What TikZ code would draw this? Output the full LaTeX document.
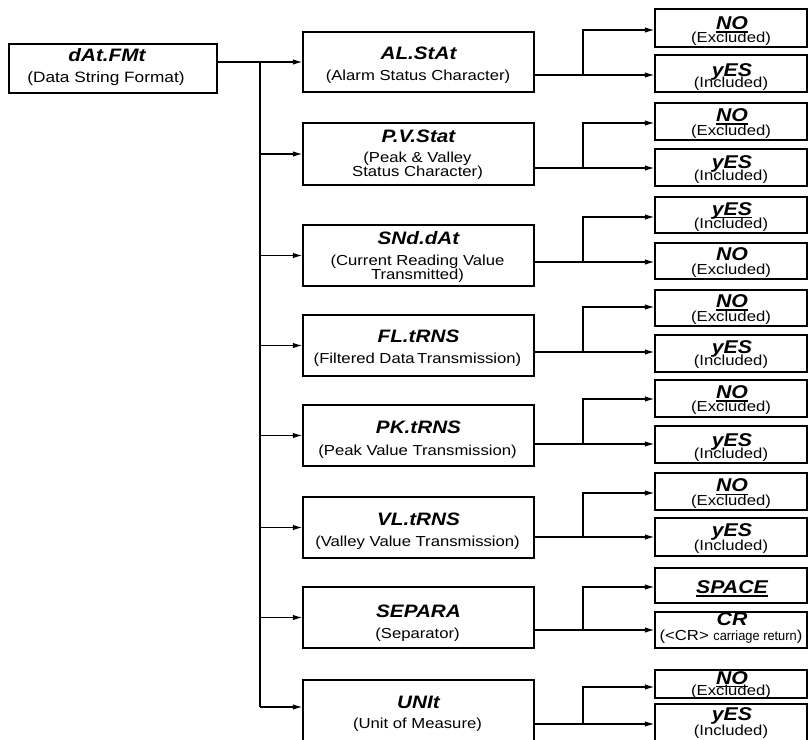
\documentclass[tikz,border=0pt]{standalone}
\usepackage{fontspec}
\setmainfont{Liberation Sans}[FakeStretch=1.15]
\newfontfamily\condfont{Liberation Sans}[FakeStretch=0.95]
\usetikzlibrary{arrows.meta}
\newcommand\myul[1]{\setbox0\hbox{#1}\rlap{\rule[-3.2pt]{\wd0}{1.3pt}}\box0}
\tikzset{
 box/.style={draw=black, line width=1.4pt, inner sep=0pt, fill=white},
 midbox/.style={box, minimum width=231pt},
 optbox/.style={box, minimum width=152pt},
 ttl/.style={inner sep=0pt, anchor=base, font=\fontsize{18}{18}\selectfont\bfseries\itshape},
 otl/.style={inner sep=0pt, anchor=base, font=\fontsize{18.5}{18}\selectfont\bfseries\itshape},
 sub/.style={inner sep=0pt, anchor=base, font=\fontsize{14.5}{14}\selectfont},
 arr/.style={line width=1.2pt, -{Latex[length=9.5pt,width=5.5pt]}},
 ln/.style={line width=1.2pt},
}
\begin{document}
\begin{tikzpicture}[x=1pt,y=-1pt]
\useasboundingbox (0,0) rectangle (808,739);
% root
\node[box, minimum width=208pt, minimum height=49pt] (root) at (113,68.5) {};
\node[ttl] (rootT) at (107,61) {dAt.FMt};
\node[sub, font=\fontsize{15}{15}\selectfont] (rootS) at (106,82) {(Data String Format)};
% middle boxes
\node[midbox, minimum height=60pt] (al) at (418.5,62) {};
\node[ttl] (alT) at (418.5,59.3) {AL.StAt};
\node[sub] (alS) at (418,80.3) {(Alarm Status Character)};
\node[midbox, minimum height=62pt] (pv) at (418.5,154) {};
\node[ttl] (pvT) at (418.5,142.5) {P.V.Stat};
\node[sub] (pvS1) at (417.5,162.7) {(Peak \& Valley};
\node[sub] (pvS2) at (417.5,176.7) {Status Character)};
\node[midbox, minimum height=61pt] (sn) at (418.5,255.5) {};
\node[ttl] (snT) at (418.5,244.3) {SNd.dAt};
\node[sub] (snS1) at (417.5,265) {(Current Reading Value};
\node[sub] (snS2) at (417.5,279) {Transmitted)};
\node[midbox, minimum height=61pt] (fl) at (418.5,345.5) {};
\node[ttl] (flT) at (418.5,342.5) {FL.tRNS};
\node[sub] (flS) at (417.5,363.5) {(Filtered Data\kern2.5pt Transmission)};
\node[midbox, minimum height=61pt] (pk) at (418.5,435.5) {};
\node[ttl] (pkT) at (418.5,433.5) {PK.tRNS};
\node[sub] (pkS) at (417.5,455) {(Peak Value Transmission)};
\node[midbox, minimum height=61pt] (vl) at (418.5,527.5) {};
\node[ttl] (vlT) at (418.5,525) {VL.tRNS};
\node[sub] (vlS) at (417.5,546) {(Valley Value Transmission)};
\node[midbox, minimum height=61pt] (se) at (418.5,617.5) {};
\node[ttl] (seT) at (418.5,617) {SEPARA};
\node[sub] (seS) at (417.5,638.5) {(Separator)};
\node[midbox, minimum height=61pt] (un) at (418.5,710.5) {};
\node[ttl] (unT) at (418.5,708.3) {UNIt};
\node[sub] (unS) at (417.5,728.3) {(Unit of Measure)};
% option boxes
\node[optbox, minimum height=38pt] (n1) at (731,28) {};
\node[otl] (n1T) at (732,29.3) {\myul{NO}};
\node[sub] (n1S) at (731,42.7) {(Excluded)};
\node[optbox, minimum height=37pt] (y1) at (731,73.5) {};
\node[otl] (y1T) at (732,76.5) {yES};
\node[sub] (y1S) at (731,87) {(Included)};
\node[optbox, minimum height=37pt] (n2) at (731,121.5) {};
\node[otl] (n2T) at (732,121.5) {\myul{NO}};
\node[sub] (n2S) at (731,135) {(Excluded)};
\node[optbox, minimum height=37pt] (y2) at (731,167.5) {};
\node[otl] (y2T) at (732,168.3) {yES};
\node[sub] (y2S) at (731,180) {(Included)};
\node[optbox, minimum height=36pt] (y3) at (731,215) {};
\node[otl] (y3T) at (732,215) {\myul{yES}};
\node[sub] (y3S) at (731,228.3) {(Included)};
\node[optbox, minimum height=36pt] (n3) at (731,261) {};
\node[otl] (n3T) at (732,260) {NO};
\node[sub] (n3S) at (731,274) {(Excluded)};
\node[optbox, minimum height=36pt] (n4) at (731,308) {};
\node[otl] (n4T) at (732,307.5) {\myul{NO}};
\node[sub] (n4S) at (731,321) {(Excluded)};
\node[optbox, minimum height=37pt] (y4) at (731,353.5) {};
\node[otl] (y4T) at (732,353.5) {yES};
\node[sub] (y4S) at (731,365.5) {(Included)};
\node[optbox, minimum height=37pt] (n5) at (731,398.5) {};
\node[otl] (n5T) at (732,398.3) {\myul{NO}};
\node[sub] (n5S) at (731,411.7) {(Excluded)};
\node[optbox, minimum height=37pt] (y5) at (731,444.5) {};
\node[otl] (y5T) at (732,446) {yES};
\node[sub] (y5S) at (731,458.3) {(Included)};
\node[optbox, minimum height=37pt] (n6) at (731,491.5) {};
\node[otl] (n6T) at (732,491.7) {\myul{NO}};
\node[sub] (n6S) at (731,505) {(Excluded)};
\node[optbox, minimum height=38pt] (y6) at (731,537) {};
\node[otl] (y6T) at (732,536.7) {yES};
\node[sub] (y6S) at (731,550.7) {(Included)};
\node[optbox, minimum height=35pt] (sp) at (731,585.5) {};
\node[otl] (spT) at (732,593.3) {\myul{SPACE}};
\node[optbox, minimum height=36pt] (cr) at (731,630) {};
\node[otl] (crT) at (732,625) {CR};
\node[sub] (crS) at (731,640) {(<CR> {\condfont\fontsize{13.5}{14}\selectfont carriage return})};
\node[optbox, minimum height=28pt] (n8) at (731,684) {};
\node[otl] (n8T) at (732,684) {\myul{NO}};
\node[sub] (n8S) at (731,695) {(Excluded)};
\node[optbox, minimum height=37pt] (y8) at (731,722.5) {};
\node[otl] (y8T) at (732,720) {yES};
\node[sub] (y8S) at (731,735) {(Included)};
% trunk
\coordinate (tk) at (260,62);
\coordinate (tkend) at (260,707);
\draw[arr] (root.east |- al.west) -- (al.west);
\draw[ln] (tk) -- (tkend);
\draw[arr] (tk |- pv.west) -- (pv.west);
\draw[arr] (tk |- sn.west) -- (sn.west);
\draw[arr] (tk |- fl.west) -- (fl.west);
\draw[arr] (tk |- pk.west) -- (pk.west);
\draw[arr] (tk |- vl.west) -- (vl.west);
\draw[arr] (tk |- se.west) -- (se.west);
\draw[arr] (tkend) -- (tkend -| un.west);
% branches
\foreach \m/\up/\lo/\U/\L in {al/n1/y1/30/75, pv/n2/y2/123/168, sn/y3/n3/217/262, fl/n4/y4/307/352, pk/n5/y5/399/444, vl/n6/y6/493/537, se/sp/cr/587/630, un/n8/y8/687/724}{
  \coordinate (bl) at (583,\L);
  \coordinate (bu) at (583,\U);
  \draw[arr] (bl -| \m.east) -- (bl -| \lo.west);
  \draw[arr] (bl) -- (bu) -- (bu -| \up.west);
}
\end{tikzpicture}
\end{document}
